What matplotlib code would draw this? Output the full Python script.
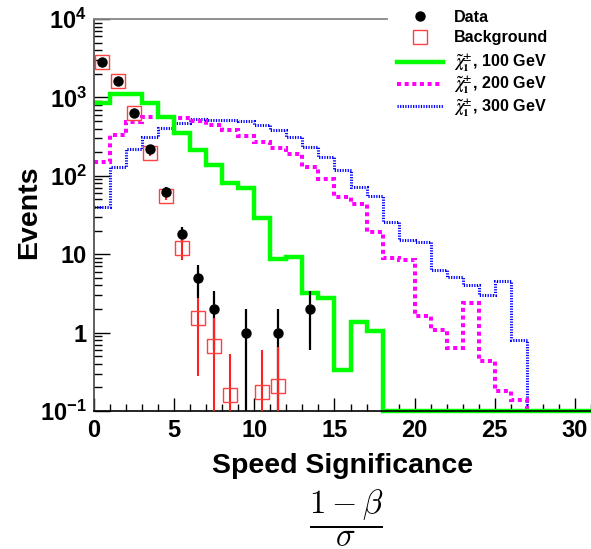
import matplotlib
matplotlib.use('Agg')
import matplotlib.pyplot as plt
from matplotlib.lines import Line2D
from matplotlib.ticker import MultipleLocator, LogLocator, NullFormatter
import numpy as np

plt.rcParams['font.family'] = 'Liberation Sans'
plt.rcParams['font.weight'] = 'bold'
plt.rcParams['mathtext.fontset'] = 'custom'
plt.rcParams['mathtext.rm'] = 'Liberation Sans:bold'
plt.rcParams['mathtext.bf'] = 'Liberation Sans:bold'
plt.rcParams['mathtext.it'] = 'Liberation Sans:bold:italic'

# bin edges 0..32, one unit wide
edges = np.arange(0, 33)

# signal histograms (events per bin)
sig_100 = [840, 1100, 1100, 855, 557, 348, 213, 137, 80, 69, 29, 8.6, 9.2, 3.2, 2.8, 0.33,
           1.35, 1.06, 0, 0, 0, 0, 0, 0, 0, 0, 0, 0, 0, 0, 0, 0]
sig_200 = [151, 333, 490, 557, 557, 541, 500, 445, 384, 322, 272, 224, 190, 131, 90, 54,
           43.5, 19.4, 8.9, 8.5, 1.63, 1.08, 0.63, 2.37, 0.43, 0.18, 0.138, 0, 0, 0, 0, 0]
sig_300 = [40, 131, 218, 310, 403, 467, 526, 515, 510, 505, 445, 384, 310, 235, 175, 118,
           72.6, 56, 26, 15.2, 14.5, 6.3, 5.07, 4.05, 3.02, 4.6, 0.8, 0, 0, 0, 0, 0]

# data points (bins 0..13) with errors
data_counts = [2800, 1630, 630, 218, 63, 18, 5, 2, 0, 1, 0, 1, 0, 2]
data_err = [53, 40, 25, 15, 8, 4.2, 2.2, 1.4, 0, 1, 0, 1, 0, 1.4]

# background estimate (bins 0..11) with errors
bkg_counts = [2800, 1630, 630, 195, 56, 12, 1.52, 0.68, 0.158, 0, 0.175, 0.21]
bkg_err = [50, 40, 25, 14, 7.5, 3.5, 1.24, 0.85, 0.38, 0, 0.42, 0.45]

labels = ['Data', 'Background', r'$\tilde{\chi}_{1}^{\pm}$, 100 GeV',
          r'$\tilde{\chi}_{1}^{\pm}$, 200 GeV', r'$\tilde{\chi}_{1}^{\pm}$, 300 GeV']

GREEN = '#00ff00'
MAGENTA = '#ff00ff'
BLUE = '#0000ff'
RED = '#ff2020'
SQ_RED = '#ff4040'
YMIN = 0.1

fig = plt.figure(figsize=(5.91, 5.49), dpi=100)
ax = fig.add_axes([94 / 591, 138 / 549, 497 / 591, 392 / 549])
ax.set_yscale('log')

# histograms: empty bins drawn along the bottom of the frame, as ROOT does
for vals, col, lw, ls in [(sig_300, BLUE, 2.2, (0, (0.4, 0.45))),
                          (sig_200, MAGENTA, 2.9, (0, (1, 0.9))),
                          (sig_100, GREEN, 3.2, '-')]:
    v = np.array(vals, dtype=float)
    v = np.where(v > 0, v, YMIN)
    ax.stairs(v, edges, baseline=None, color=col, lw=lw, linestyle=ls,
              clip_on=False, zorder=2)

centers = edges[:-1] + 0.5

dc = np.array(data_counts, dtype=float)
de = np.array(data_err, dtype=float)
dx = centers[:len(dc)]
m = dc > 0
ax.errorbar(dx[m], dc[m], yerr=de[m], fmt='none', ecolor='k', elinewidth=1.6,
            capsize=0, zorder=3)

bc = np.array(bkg_counts, dtype=float)
be = np.array(bkg_err, dtype=float)
bx = centers[:len(bc)]
mb = bc > 0
ax.errorbar(bx[mb], bc[mb], yerr=be[mb], fmt='none', ecolor=RED, elinewidth=1.5,
            capsize=0, zorder=4)
ax.plot(bx[mb], bc[mb], 's', mfc='none', mec=SQ_RED, ms=10.5, mew=1.0, zorder=5)
ax.plot(dx[m], dc[m], 'o', color='k', ms=6.5, zorder=6)

ax.set_xlim(0, 31)
ax.set_ylim(YMIN, 1e4)

ax.xaxis.set_major_locator(MultipleLocator(5))
ax.xaxis.set_minor_locator(MultipleLocator(1))
ax.set_yticks([0.1, 1, 10, 100, 1000, 10000])
ax.set_yticklabels([r'$10^{-1}$', '1', '10', r'$10^{2}$', r'$10^{3}$', r'$10^{4}$'])
ax.yaxis.set_minor_locator(LogLocator(base=10, subs=np.arange(2, 10)))
ax.yaxis.set_minor_formatter(NullFormatter())

ax.tick_params(axis='x', which='major', direction='in', length=9.4, width=1,
               labelsize=17, pad=5.5, top=False)
ax.tick_params(axis='x', which='minor', direction='in', length=4.7, width=1, top=False)
ax.tick_params(axis='y', which='major', direction='in', length=11.5, width=1,
               labelsize=17, pad=5, right=False)
ax.tick_params(axis='y', which='minor', direction='in', length=5.8, width=1, right=False)
for t in ax.get_xticklabels() + ax.get_yticklabels():
    t.set_fontweight('bold')

# the legend hides the right part of the top frame line
ax.spines['right'].set_visible(False)
ax.spines['top'].set_color('#888888')
ax.spines['top'].set_linewidth(1.3)
ax.spines['top'].set_bounds(0, 18.25)
ax.spines['left'].set_color('#444444')
ax.spines['left'].set_linewidth(1.2)
ax.spines['bottom'].set_linewidth(1.2)

ax.set_xlabel('Speed Significance', fontsize=20.5, fontweight='bold')
ax.xaxis.set_label_coords(0.5, -0.107)
ax.set_ylabel('Events', fontsize=20.5, fontweight='bold')
ax.yaxis.set_label_coords(-0.1046, 0.508)

fig.text(346 / 591, 1 - 518 / 549, r'$\dfrac{1-\beta}{\sigma}$', math_fontfamily='cm',
         fontsize=23.5, ha='center', va='center', fontweight='normal')

handles = [Line2D([], [], ls='none', marker='o', color='k', ms=6.5),
           Line2D([], [], ls='none', marker='s', mfc='none', mec=SQ_RED, ms=10.5, mew=1.0),
           Line2D([], [], color=GREEN, lw=3.2),
           Line2D([], [], color=MAGENTA, lw=2.9, ls=(0, (1, 0.9))),
           Line2D([], [], color=BLUE, lw=2.2, ls=(0, (0.4, 0.45)))]
leg_kw = dict(loc='upper left', bbox_transform=fig.transFigure,
              prop={'size': 11.6, 'weight': 'bold'}, frameon=False, borderpad=0.6,
              handlelength=2.86, handletextpad=0.68, numpoints=1, borderaxespad=0)
leg1 = ax.legend(handles[:2], labels[:2], bbox_to_anchor=(387 / 591, 1.0),
                 labelspacing=0.35, **leg_kw)
ax.add_artist(leg1)
leg2 = ax.legend(handles[2:], labels[2:], bbox_to_anchor=(387 / 591, 1 - 42.5 / 549),
                 labelspacing=0.0, **leg_kw)
for t in leg2.get_texts():
    t.set_math_fontfamily('stix')

fig.savefig('out.png', dpi=100)
